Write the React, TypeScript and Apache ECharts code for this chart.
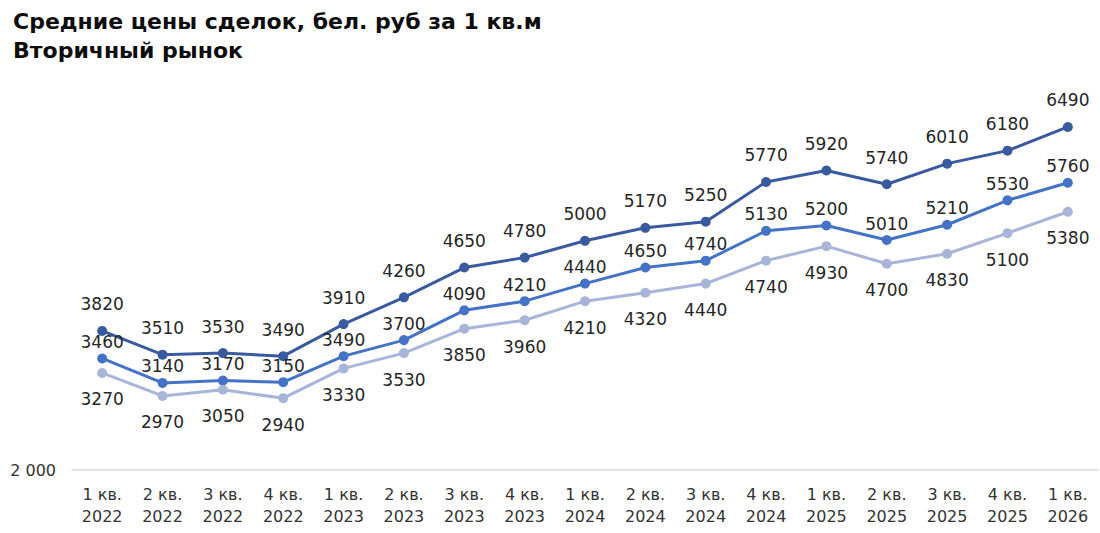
import React, { useEffect, useRef } from "react";
import * as echarts from "echarts";

const categories = [
  "1 кв.\n2022", "2 кв.\n2022", "3 кв.\n2022", "4 кв.\n2022",
  "1 кв.\n2023", "2 кв.\n2023", "3 кв.\n2023", "4 кв.\n2023",
  "1 кв.\n2024", "2 кв.\n2024", "3 кв.\n2024", "4 кв.\n2024",
  "1 кв.\n2025", "2 кв.\n2025", "3 кв.\n2025", "4 кв.\n2025",
  "1 кв.\n2026",
];
const seriesHigh = [3820, 3510, 3530, 3490, 3910, 4260, 4650, 4780, 5000, 5170, 5250, 5770, 5920, 5740, 6010, 6180, 6490];
const seriesMid = [3460, 3140, 3170, 3150, 3490, 3700, 4090, 4210, 4440, 4650, 4740, 5130, 5200, 5010, 5210, 5530, 5760];
const seriesLow = [3270, 2970, 3050, 2940, 3330, 3530, 3850, 3960, 4210, 4320, 4440, 4740, 4930, 4700, 4830, 5100, 5380];

const FONT = "'DejaVu Sans', sans-serif";

export default function App() {
  const ref = useRef<HTMLDivElement>(null);
  useEffect(() => {
    if (!ref.current) return;
    const chart = echarts.init(ref.current, undefined, { renderer: "svg" });
    const mk = (name: string, data: number[], color: string, pos: string, dist: number) => ({
      name,
      type: "line",
      data,
      symbol: "circle",
      symbolSize: 10,
      lineStyle: { width: 3, color },
      itemStyle: { color },
      label: {
        show: true,
        position: pos,
        distance: dist,
        fontFamily: FONT,
        fontSize: 17,
        color: "#262626",
      },
    });
    chart.setOption({
      animation: false,
      title: {
        text: "Средние цены сделок, бел. руб за 1 кв.м\nВторичный рынок",
        left: 8,
        top: 2,
        textStyle: {
          fontFamily: FONT,
          fontSize: 22,
          fontWeight: "bold",
          color: "#0d0d0d",
          lineHeight: 29,
        },
      },
      grid: { left: 72, right: 2, top: 88, bottom: 63, containLabel: false },
      xAxis: {
        type: "category",
        data: categories,
        boundaryGap: true,
        axisLine: { lineStyle: { color: "#d9d9d9", width: 1.5 } },
        axisTick: { show: false },
        axisLabel: {
          fontFamily: FONT,
          fontSize: 16,
          color: "#333333",
          lineHeight: 22,
          margin: 13,
          interval: 0,
        },
      },
      yAxis: {
        type: "value",
        min: 2000,
        max: 7000,
        interval: 1000,
        splitLine: { show: false },
        axisLine: { show: false },
        axisTick: { show: false },
        axisLabel: {
          fontFamily: FONT,
          fontSize: 16,
          color: "#333333",
          margin: 16,
          formatter: (v: number) => (v === 2000 ? "2 000" : ""),
        },
      },
      series: [
        mk("high", seriesHigh, "#3a5a9f", "top", 13),
        mk("mid", seriesMid, "#4472c4", "top", 3),
        mk("low", seriesLow, "#a9b4d9", "bottom", 13),
      ],
    });
    return () => chart.dispose();
  }, []);
  return (
    <div
      ref={ref}
      style={{ position: "fixed", left: 0, top: 0, width: 1100, height: 533, background: "#fff" }}
    />
  );
}
